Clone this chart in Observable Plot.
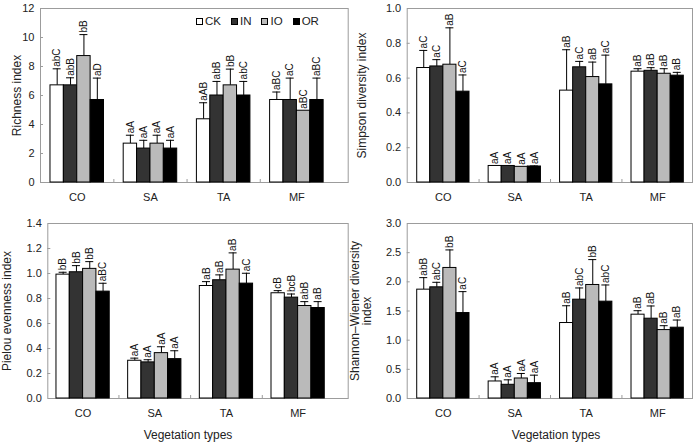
<!DOCTYPE html>
<html><head><meta charset="utf-8">
<script src="https://cdn.jsdelivr.net/npm/d3@7"></script>
<script src="https://cdn.jsdelivr.net/npm/@observablehq/plot@0.6"></script>
<style>
body{margin:0;background:#fff;font-family:"Liberation Sans",Arial,sans-serif;}
#wrap{position:relative;width:697px;height:443px;overflow:hidden;background:#fff}
.panel{position:absolute}
.xtitle{position:absolute;font-size:12px;color:#222;transform:translate(-50%,-50%);white-space:nowrap}
#legend{position:absolute;left:196px;top:15px;display:flex;align-items:center;font-size:11.5px;color:#222;white-space:nowrap}
#legend .it{display:flex;align-items:center;margin-right:10px}
#legend .sw{width:7px;height:7px;border:1px solid #000;margin-right:2px;box-sizing:border-box}
</style></head><body><div id="wrap"></div>
<script>
const categories = ["CO", "SA", "TA", "MF"];
const treatments = ["CK", "IN", "IO", "OR"];
const treatmentFill = ["#ffffff", "#333333", "#bababa", "#000000"];

// rows: categories (CO, SA, TA, MF); columns: treatments (CK, IN, IO, OR)
const richnessMean = [[6.70, 6.70, 8.72, 5.69], [2.68, 2.34, 2.68, 2.34], [4.36, 6.00, 6.70, 6.00], [5.69, 5.69, 4.95, 5.69]];
const richnessSD   = [[1.14, 0.52, 1.48, 1.51], [0.58, 0.57, 0.58, 0.57], [1.14, 0.97, 1.12, 0.97], [0.55, 1.51, 0.00, 1.51]];
const richnessSig  = [["abC", "abB", "bB", "aD"], ["aA", "aA", "aA", "aA"], ["aAB", "abB", "bB", "abC"], ["aBC", "aC", "aBC", "aBC"]];

const simpsonMean = [[0.658, 0.667, 0.677, 0.522], [0.095, 0.095, 0.090, 0.092], [0.528, 0.662, 0.606, 0.564], [0.637, 0.642, 0.625, 0.614]];
const simpsonSD   = [[0.101, 0.039, 0.212, 0.096], [0.000, 0.000, 0.000, 0.003], [0.235, 0.034, 0.086, 0.168], [0.017, 0.018, 0.029, 0.019]];
const simpsonSig  = [["aC", "aC", "aB", "aC"], ["aA", "aA", "aA", "aA"], ["aB", "aC", "aB", "aC"], ["aB", "aB", "aB", "aB"]];

const pielouMean = [[0.991, 1.010, 1.037, 0.855], [0.302, 0.289, 0.363, 0.315], [0.900, 0.946, 1.031, 0.919], [0.842, 0.807, 0.740, 0.724]];
const pielouSD   = [[0.019, 0.053, 0.058, 0.067], [0.021, 0.021, 0.051, 0.067], [0.035, 0.043, 0.134, 0.083], [0.021, 0.029, 0.035, 0.051]];
const pielouSig  = [["bB", "bB", "bB", "aBC"], ["aA", "aA", "aA", "aA"], ["aB", "aB", "aB", "aC"], ["cB", "bcB", "abB", "aB"]];

const shannonMean = [[1.866, 1.906, 2.238, 1.465], [0.292, 0.235, 0.343, 0.263], [1.294, 1.694, 1.946, 1.660], [1.437, 1.368, 1.173, 1.214]];
const shannonSD   = [[0.206, 0.086, 0.309, 0.367], [0.080, 0.085, 0.086, 0.137], [0.296, 0.201, 0.435, 0.286], [0.068, 0.218, 0.075, 0.131]];
const shannonSig  = [["abB", "abC", "bB", "aC"], ["aA", "aA", "aA", "aA"], ["aB", "abC", "bB", "abC"], ["aB", "aB", "aB", "aB"]];

const richnessTicks = [0, 2, 4, 6, 8, 10, 12];
const simpsonTicks = [0, 0.2, 0.4, 0.6, 0.8, 1.0];
const pielouTicks = [0, 0.2, 0.4, 0.6, 0.8, 1.0, 1.2, 1.4];
const shannonTicks = [0, 0.5, 1.0, 1.5, 2.0, 2.5, 3.0];

const xTitle = "Vegetation types";

const panels = [
  {mean: richnessMean, sd: richnessSD, sig: richnessSig, ticks: richnessTicks, fmt: d3.format("d"), title: "Richness index",
   left: 0, top: 0, height: 207, ml: 40, mr: 2.3, pi: 0.269, po: 0.236, align: 0.289, titleDx: -23},
  {mean: simpsonMean, sd: simpsonSD, sig: simpsonSig, ticks: simpsonTicks, fmt: d3.format(".1f"), title: "Simpson diversity index",
   left: 345, top: 0, height: 207, ml: 61.7, mr: 3, pi: 0.268, po: 0.131, align: 0.535, titleDx: -44.7},
  {mean: pielouMean, sd: pielouSD, sig: pielouSig, ticks: pielouTicks, fmt: d3.format(".1f"), title: "Pielou evenness index",
   left: 0, top: 215, height: 208, ml: 47.3, mr: 2.3, pi: 0.257, po: 0.224, align: 0.27, titleDx: -40.3, xt: 188},
  {mean: shannonMean, sd: shannonSD, sig: shannonSig, ticks: shannonTicks, fmt: d3.format(".1f"), title: "Shannon\u2013Wiener diversity\nindex",
   left: 345, top: 215, height: 208, ml: 61.7, mr: 3, pi: 0.268, po: 0.131, align: 0.535, titleDx: -46.2, xt: 556}
];

const wrap = document.getElementById("wrap");
const W = 350, MT = 8, MB = 25, CAP = 8;
const frameColor = "#9c9c9c";

panels.forEach(p => {
  const xb = d3.scaleBand().domain(categories).range([p.ml, W - p.mr])
    .paddingInner(p.pi).paddingOuter(p.po).align(p.align);
  const bw = xb.bandwidth(), step = xb.step(), b = bw / 4;
  const frameW = W - p.ml - p.mr, frameH = p.height - MT - MB;
  const ymax = p.ticks[p.ticks.length - 1];

  const marks = [Plot.frame({stroke: frameColor})];
  treatments.forEach((t, i) => {
    const rows = categories.map((c, j) => ({cat: c, mean: p.mean[j][i], top: p.mean[j][i] + p.sd[j][i], sd: p.sd[j][i], label: p.sig[j][i]}));
    const withErr = rows.filter(r => r.sd > 0);
    const off = (i - 1.5) * b;
    marks.push(
      Plot.ruleX(withErr, {x: "cat", y1: "mean", y2: "top", dx: off, stroke: "#000", strokeWidth: 1}),
      Plot.tickY(withErr, {x: "cat", y: "top", insetLeft: i * b + (b - CAP) / 2, insetRight: (3 - i) * b + (b - CAP) / 2, stroke: "#000", strokeWidth: 1}),
      Plot.barY(rows, {x: "cat", y: "mean", fill: treatmentFill[i], stroke: "#000", strokeWidth: 1, insetLeft: i * b, insetRight: (3 - i) * b}),
      Plot.text(rows, {x: "cat", y: "top", text: "label", rotate: -90, textAnchor: "start", dx: off, dy: -2, fontSize: 10, fill: "#111"})
    );
  });
  marks.push(
    Plot.ruleX(categories.slice(1), {x: d => d, dx: -step / 2, insetTop: frameH - 3, stroke: frameColor}),
    Plot.ruleY(p.ticks.slice(1, -1), {y: d => d, insetRight: frameW - 3, stroke: frameColor}),
    Plot.axisY({ticks: p.ticks, tickFormat: p.fmt, tickSize: 0, tickPadding: 6, fontSize: 11, label: null}),
    Plot.axisX({tickSize: 0, tickPadding: 11, fontSize: 11, label: null}),
    Plot.text([p.title], {text: d => d, frameAnchor: "left", textAnchor: "middle", lineAnchor: "middle", rotate: -90, dx: p.titleDx, fontSize: 12, fill: "#222", lineHeight: 1.0})
  );

  const svg = Plot.plot({
    width: W, height: p.height,
    marginLeft: p.ml, marginRight: p.mr, marginTop: MT, marginBottom: MB,
    x: {domain: categories, paddingInner: p.pi, paddingOuter: p.po, align: p.align, round: false, label: null},
    y: {domain: [0, ymax], label: null},
    style: {fontFamily: '"Liberation Sans", Arial, sans-serif', fontSize: "11px", color: "#222", background: "transparent", overflow: "visible"},
    marks
  });
  const div = document.createElement("div");
  div.className = "panel";
  div.style.left = p.left + "px";
  div.style.top = p.top + "px";
  div.appendChild(svg);
  wrap.appendChild(div);

  if (p.xt) {
    const t = document.createElement("div");
    t.className = "xtitle";
    t.style.left = p.xt + "px";
    t.style.top = "435px";
    t.textContent = xTitle;
    wrap.appendChild(t);
  }
});

const legend = document.createElement("div");
legend.id = "legend";
treatments.forEach((t, i) => {
  const it = document.createElement("div");
  it.className = "it";
  const sw = document.createElement("div");
  sw.className = "sw";
  sw.style.background = treatmentFill[i];
  const lb = document.createElement("span");
  lb.textContent = t;
  it.appendChild(sw); it.appendChild(lb);
  legend.appendChild(it);
});
wrap.appendChild(legend);
</script>
</body></html>
